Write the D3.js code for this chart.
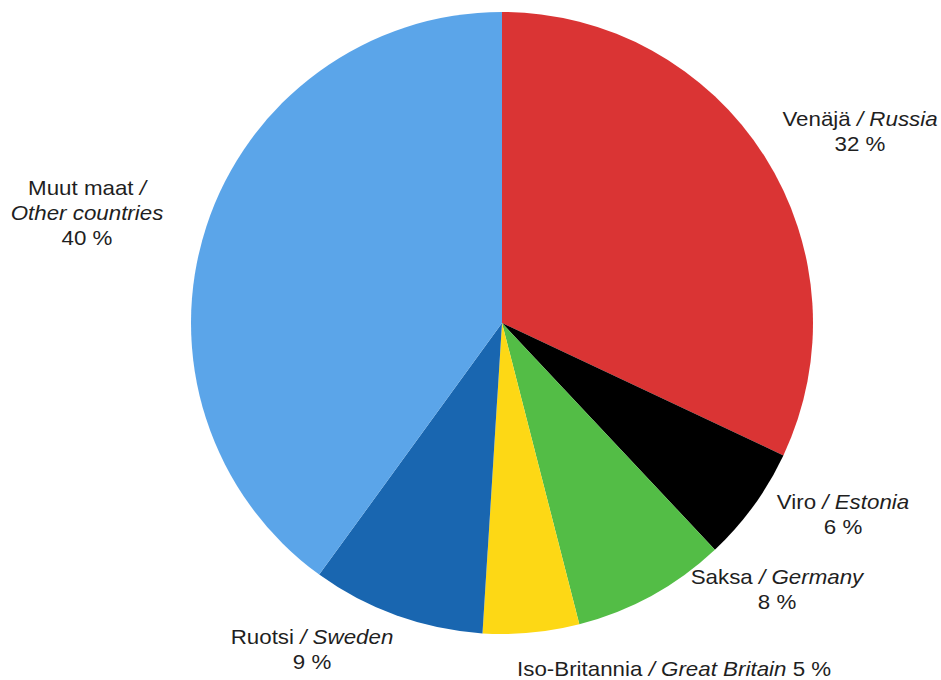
<!DOCTYPE html>
<html>
<head>
<meta charset="utf-8">
<script src="https://cdn.jsdelivr.net/npm/d3@7"></script>
<style>
  html, body { margin: 0; padding: 0; background: #fff; }
  svg text { font-family: "Liberation Sans", Arial, sans-serif; font-size: 20.5px; fill: #1f1f1f; }
</style>
</head>
<body>
<svg id="chart" width="941" height="680"></svg>
<script>
// Country shares (%) drawn clockwise from 12 o'clock
const fiNames = ["Venäjä", "Viro", "Saksa", "Iso-Britannia", "Ruotsi", "Muut maat"];
const enNames = ["Russia", "Estonia", "Germany", "Great Britain", "Sweden", "Other countries"];
const shares = [32, 6, 8, 5, 9, 40];
const colors = ["#da3434", "#000000", "#53bd46", "#fdd815", "#1966b0", "#5ba5e9"];

// Label anchor points and line layouts per slice
const labelX = [860, 843, 777, 517, 312, 87];
const labelY = [126, 509, 584, 676, 644, 195];
const labelLayout = ["two", "two", "two", "one", "two", "three"];

const svg = d3.select("#chart");
const cx = 502, cy = 323, r = 311;
const stretch = 1.09;   // labels are set slightly wide
const lineH = 25;

const pie = d3.pie().sort(null).value(d => d.value);
const arc = d3.arc().innerRadius(0).outerRadius(r);

const data = shares.map((v, i) => ({ fi: fiNames[i], en: enNames[i], value: v, color: colors[i], lx: labelX[i], ly: labelY[i], layout: labelLayout[i] }));

const g = svg.append("g").attr("transform", `translate(${cx},${cy})`);
g.selectAll("path")
  .data(pie(data))
  .join("path")
  .attr("d", arc)
  .attr("fill", d => d.data.color);

function label(x, y, anchor) {
  return svg.append("text")
    .attr("transform", `translate(${x},${y}) scale(${stretch},1)`)
    .attr("text-anchor", anchor);
}

data.forEach(d => {
  if (d.layout === "one") {
    const t = label(d.lx, d.ly, "start");
    t.append("tspan").text(d.fi + " ");
    t.append("tspan").attr("font-style", "italic").text("/ " + d.en);
    t.append("tspan").text(" " + d.value + " %");
  } else if (d.layout === "two") {
    const t = label(d.lx, d.ly, "middle");
    t.append("tspan").text(d.fi + " ");
    t.append("tspan").attr("font-style", "italic").text("/ " + d.en);
    label(d.lx, d.ly + lineH, "middle").text(d.value + " %");
  } else {
    const t = label(d.lx, d.ly, "middle");
    t.append("tspan").text(d.fi + " ");
    t.append("tspan").attr("font-style", "italic").text("/");
    label(d.lx, d.ly + lineH, "middle").attr("font-style", "italic").text(d.en);
    label(d.lx, d.ly + 2 * lineH, "middle").text(d.value + " %");
  }
});
</script>
</body>
</html>
